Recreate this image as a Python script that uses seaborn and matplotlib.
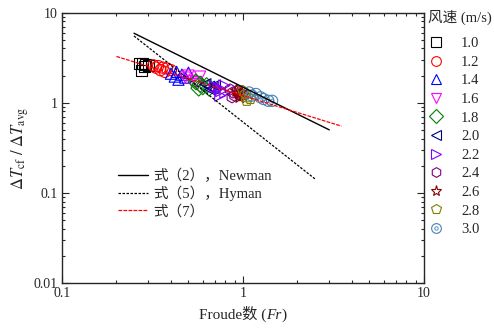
import matplotlib
matplotlib.use("Agg")
import matplotlib.pyplot as plt
import seaborn as sns
import pandas as pd
from matplotlib.lines import Line2D
from matplotlib.font_manager import FontProperties
from matplotlib.offsetbox import TextArea, HPacker, AnchoredOffsetbox
from matplotlib.ticker import FixedLocator, FixedFormatter, LogLocator, NullFormatter
from matplotlib.legend_handler import HandlerTuple

sns.set_style("ticks")
plt.rcParams['font.family'] = ['Liberation Serif', 'Noto Sans CJK SC']
plt.rcParams['mathtext.fontset'] = 'stix'

speeds = ['1.0', '1.2', '1.4', '1.6', '1.8', '2.0', '2.2', '2.4', '2.6', '2.8', '3.0']
markers = ['s', 'o', '^', 'v', 'D', '<', '>', 'h', '*', 'p', 'o']
colors = ['#000000', '#ff0000', '#0000ff', '#ff00ff', '#008000', '#000080',
          '#8000ff', '#800080', '#8b0000', '#808000', '#4682b4']

fr_vals = [
    [0.27, 0.28, 0.29, 0.285, 0.275, 0.30],
    [0.32, 0.34, 0.36, 0.38, 0.35, 0.40, 0.33, 0.37],
    [0.40, 0.43, 0.46, 0.48, 0.50, 0.44, 0.42],
    [0.48, 0.52, 0.55, 0.58, 0.50, 0.56],
    [0.55, 0.58, 0.60, 0.63, 0.65, 0.57],
    [0.62, 0.65, 0.68, 0.70, 0.66],
    [0.70, 0.74, 0.76, 0.79, 0.80, 0.75],
    [0.85, 0.88, 0.90, 0.93, 0.87, 0.95],
    [0.92, 0.95, 0.98, 1.00, 0.96],
    [1.00, 1.03, 1.06, 1.05, 1.10],
    [1.08, 1.12, 1.18, 1.25, 1.30, 1.38, 1.45],
]
dt_vals = [
    [2.75, 2.70, 2.65, 2.50, 2.30, 2.60],
    [2.60, 2.55, 2.45, 2.40, 2.30, 2.30, 2.45, 2.20],
    [2.10, 2.20, 2.05, 1.90, 2.15, 1.80, 1.95],
    [1.90, 1.75, 1.70, 1.95, 2.00, 1.60],
    [1.70, 1.60, 1.50, 1.55, 1.45, 1.45],
    [1.60, 1.50, 1.45, 1.55, 1.40],
    [1.50, 1.45, 1.35, 1.55, 1.30, 1.20],
    [1.40, 1.30, 1.20, 1.35, 1.15, 1.25],
    [1.35, 1.25, 1.30, 1.20, 1.15],
    [1.35, 1.25, 1.15, 1.05, 1.10],
    [1.30, 1.20, 1.25, 1.15, 1.10, 1.05, 1.05],
]

newman_x = [0.25, 3.0]
newman_y = [5.9, 0.50]
hyman_x = [0.25, 2.5]
hyman_y = [5.5, 0.143]
eq7_x = [0.20, 3.5]
eq7_y = [3.26, 0.55]

line_labels = ['式（2），Newman', '式（5），Hyman', '式（7）']
legend_title = '风速 (m/s)'
xticks = [0.1, 1, 10]
xticklabels = ['0.1', '1', '10']
yticks = [0.01, 0.1, 1, 10]
yticklabels = ['0.01', '0.1', '1', '10']

fig = plt.figure(figsize=(4.94, 3.31), dpi=100)
ax = fig.add_axes([0.1255, 0.145, 0.7325, 0.817])

# lines
ldf = pd.DataFrame({'x': newman_x, 'y': newman_y})
sns.lineplot(data=ldf, x='x', y='y', ax=ax, color='black', lw=1.0, estimator=None)
ldf = pd.DataFrame({'x': hyman_x, 'y': hyman_y})
sns.lineplot(data=ldf, x='x', y='y', ax=ax, color='black', lw=0.9, ls=(0, (2, 1.2)), estimator=None)
ldf = pd.DataFrame({'x': eq7_x, 'y': eq7_y})
sns.lineplot(data=ldf, x='x', y='y', ax=ax, color='red', lw=0.9, ls=(0, (3, 1)), estimator=None)

# points
handles = []
for sp, m, c, xs, ys in zip(speeds, markers, colors, fr_vals, dt_vals):
    df = pd.DataFrame({'Fr': xs, 'dT': ys})
    ms = 85 if m == '*' else 65
    sns.scatterplot(data=df, x='Fr', y='dT', ax=ax, marker=m, s=ms,
                    facecolor='none', edgecolor=c, linewidth=0.8)
    if sp == '3.0':
        sns.scatterplot(data=df, x='Fr', y='dT', ax=ax, marker='o', s=6,
                        facecolor='none', edgecolor=c, linewidth=0.6)
        h = (Line2D([], [], ls='none', marker='o', ms=7, mfc='none', mec=c, mew=0.8),
             Line2D([], [], ls='none', marker='o', ms=2.5, mfc='none', mec=c, mew=0.6))
    else:
        h = Line2D([], [], ls='none', marker=m, ms=8 if m == '*' else 7,
                   mfc='none', mec=c, mew=0.8)
    handles.append(h)

ax.set_xscale('log')
ax.set_yscale('log')
ax.set_xlim(0.1, 10)
ax.set_ylim(0.01, 10)
ax.xaxis.set_major_locator(FixedLocator(xticks))
ax.xaxis.set_major_formatter(FixedFormatter(xticklabels))
ax.yaxis.set_major_locator(FixedLocator(yticks))
ax.yaxis.set_major_formatter(FixedFormatter(yticklabels))
ax.xaxis.set_minor_locator(LogLocator(base=10, subs=range(2, 10)))
ax.yaxis.set_minor_locator(LogLocator(base=10, subs=range(2, 10)))
ax.xaxis.set_minor_formatter(NullFormatter())
ax.yaxis.set_minor_formatter(NullFormatter())
ax.tick_params(which='both', direction='in', top=True, right=True, labelsize=10, width=0.8)
ax.tick_params(which='major', length=5, pad=3)
ax.tick_params(which='minor', length=2.5)
for s in ax.spines.values():
    s.set_linewidth(1.0)
    s.set_visible(True)

ax.set_xlabel('')
ax.set_ylabel(r'$\mathit{\Delta T}_{\mathrm{cf}}\ /\ \mathit{\Delta T}_{\mathrm{avg}}$', fontsize=12, labelpad=2)

# x label with italic Fr
fp = FontProperties(family=['Liberation Serif', 'Noto Sans CJK SC'], size=11)
ta1 = TextArea('Froude数 (', textprops=dict(fontproperties=fp))
ta2 = TextArea('Fr', textprops=dict(fontproperties=FontProperties(family=['Liberation Serif'], style='italic', size=11)))
ta3 = TextArea(')', textprops=dict(fontproperties=fp))
box = HPacker(children=[ta1, ta2, ta3], pad=0, sep=0, align='baseline')
anch = AnchoredOffsetbox(loc='upper center', child=box, pad=0, frameon=False,
                         bbox_to_anchor=(0.5, -0.085), bbox_transform=ax.transAxes, borderpad=0)
ax.add_artist(anch)

# line legend
lhandles = [Line2D([], [], color='black', lw=1.0),
            Line2D([], [], color='black', lw=0.9, ls=(0, (2, 1.2))),
            Line2D([], [], color='red', lw=0.9, ls=(0, (3, 1)))]
fpl = FontProperties(family=['Liberation Serif', 'Noto Sans CJK SC'], size=10.5)
leg1 = ax.legend(lhandles, line_labels, loc='upper left', bbox_to_anchor=(0.14, 0.445),
                 frameon=False, handlelength=2.0, handletextpad=0.4,
                 labelspacing=0.2, borderaxespad=0, prop=fpl)
ax.add_artist(leg1)

# marker legend
fig.text(428 / 494, 1 - 17 / 331, legend_title, ha='left', va='center',
         fontproperties=FontProperties(family=['Liberation Serif', 'Noto Sans CJK SC'], size=10.5))
leg2 = ax.legend(handles, speeds, loc='upper left', bbox_to_anchor=(1.01, 0.91),
                 frameon=False, handletextpad=1.1, labelspacing=0.37, borderaxespad=0,
                 borderpad=0, handlelength=1.2,
                 handler_map={tuple: HandlerTuple(ndivide=1, pad=0)},
                 prop=FontProperties(family=['Liberation Serif'], size=10.5))

fig.savefig('out.png', dpi=100)
